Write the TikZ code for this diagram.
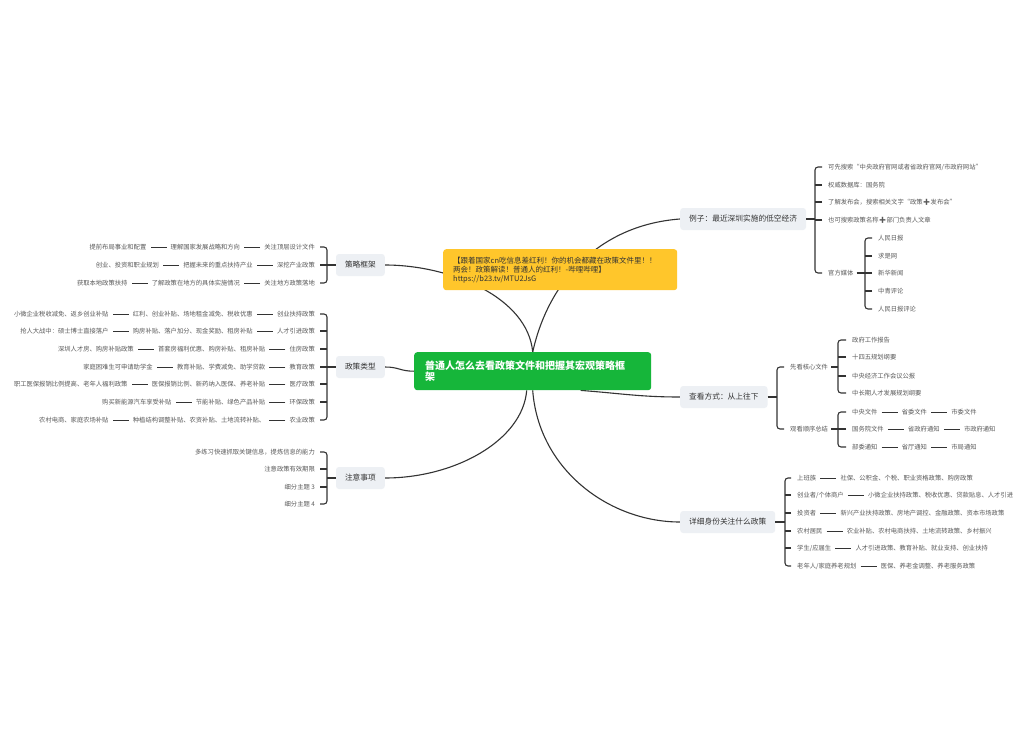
\documentclass[tikz,border=0pt]{standalone}
\usepackage{fontspec}
\setmainfont{Noto Sans CJK SC}
\newfontfamily\emo{Noto Emoji}
\usetikzlibrary{positioning,backgrounds}
\begin{document}
\begin{tikzpicture}[x=1pt,y=-1pt,
  leafnode/.style={inner sep=0pt,font=\fontsize{6.3}{7.5}\selectfont,text=leafgray},
  topicnode/.style={fill=topicbg,rounded corners=3pt,inner xsep=9pt,inner ysep=0pt,minimum height=22pt,font=\fontsize{7.7}{9}\selectfont,text=topictext},
  rootnode/.style={anchor=north west,fill=rootgreen,rounded corners=3pt,text width=215pt,align=left,inner xsep=11pt,minimum height=38pt,text=white,font=\bfseries\fontsize{10}{11.5}\selectfont},
  notenode/.style={anchor=north west,fill=noteyellow,rounded corners=3pt,text width=214pt,align=left,inner xsep=10pt,minimum height=41pt,text=topictext,font=\fontsize{7.5}{9}\selectfont},
  bracket/.style={draw=linedark,line width=1.1pt,rounded corners=3pt},
  linkline/.style={draw=linedark,line width=0.9pt},
  branch/.style={draw=linedark,line width=1.1pt}]
\definecolor{leafgray}{HTML}{595959}
\definecolor{topictext}{HTML}{333333}
\definecolor{topicbg}{HTML}{EDF0F4}
\definecolor{linedark}{HTML}{333333}
\definecolor{rootgreen}{HTML}{16B63A}
\definecolor{noteyellow}{HTML}{FFC62B}
\path[use as bounding box] (0,0) rectangle (1028,736);

\node[rootnode] (root) at (414,352) {普通人怎么去看政策文件和把握其宏观策略框\\架};
\node[notenode] (note) at (443,249) {【跟着国家cn吃信息差红利！你的机会都藏在政策文件里！！\\两会！政策解读！普通人的红利！-哔哩哔哩】\\https://b23.tv/MTU2JsG};

\node[topicnode,anchor=east] (frame) at (385,265) {策略框架};
\node[topicnode,anchor=east] (kinds) at (385,367) {政策类型};
\node[topicnode,anchor=east] (notes) at (385,478) {注意事项};
\node[topicnode,anchor=west] (example) at (680,219) {例子：最近深圳实施的低空经济};
\node[topicnode,anchor=west] (howto) at (680,397) {查看方式：从上往下};
\node[topicnode,anchor=west] (whois) at (680,522) {详细身份关注什么政策};

\foreach \n/\y/\a/\b/\c in {1/247/关注顶层设计文件/理解国家发展战略和方向/提前布局事业和配置,
  2/265/深挖产业政策/把握未来的重点扶持产业/创业、投资和职业规划,
  3/283/关注地方政策落地/了解政策在地方的具体实施情况/获取本地政策扶持}
{ \node[leafnode,anchor=east] (fa\n) at (315,\y) {\a};
  \node[leafnode,left=24pt of fa\n] (fb\n) {\b};
  \node[leafnode,left=24pt of fb\n] (fc\n) {\c};
  \draw[linkline] ([xshift=-4pt]fa\n.west) -- ([xshift=4pt]fb\n.east);
  \draw[linkline] ([xshift=-4pt]fb\n.west) -- ([xshift=4pt]fc\n.east);}
\coordinate (fk) at ([xshift=12pt]fa1.east);
\draw[bracket] ([xshift=5pt]fa1.east) -- (fk) |- ([xshift=5pt]fa3.east);
\draw[bracket] ([xshift=5pt]fa2.east) -- (fa2.east -| fk);
\draw[bracket] (frame.west) -- (frame.west -| fk);

\foreach \n/\y/\a/\b/\c in {1/314/创业扶持政策/红利、创业补贴、场地租金减免、税收优惠/小微企业税收减免、返乡创业补贴,
  2/331/人才引进政策/购房补贴、落户加分、现金奖励、租房补贴/抢人大战中：硕士博士直接落户,
  3/349/住房政策/首套房福利优惠、购房补贴、租房补贴/深圳人才房、购房补贴政策,
  4/367/教育政策/教育补贴、学费减免、助学贷款/家庭困难生可申请助学金,
  5/384/医疗政策/医保报销比例、新药纳入医保、养老补贴/职工医保报销比例提高、老年人福利政策,
  6/402/环保政策/节能补贴、绿色产品补贴/购买新能源汽车享受补贴,
  7/420/农业政策/种植结构调整补贴、农资补贴、土地流转补贴、/农村电商、家庭农场补贴}
{ \node[leafnode,anchor=east] (ka\n) at (315,\y) {\a};
  \node[leafnode,left=24pt of ka\n] (kb\n) {\b};
  \node[leafnode,left=24pt of kb\n] (kc\n) {\c};
  \draw[linkline] ([xshift=-4pt]ka\n.west) -- ([xshift=4pt]kb\n.east);
  \draw[linkline] ([xshift=-4pt]kb\n.west) -- ([xshift=4pt]kc\n.east);}
\coordinate (kk) at ([xshift=12pt]ka1.east);
\draw[bracket] ([xshift=5pt]ka1.east) -- (kk) |- ([xshift=5pt]ka7.east);
\foreach \n in {2,...,6}
  \draw[bracket] ([xshift=5pt]ka\n.east) -- (ka\n.east -| kk);
\draw[bracket] (kinds.west) -- (kinds.west -| kk);

\foreach \n/\y/\t in {1/452/多练习快速抓取关键信息，提炼信息的能力,2/469/注意政策有效期限,3/487/细分主题 3,4/504/细分主题 4}
  \node[leafnode,anchor=east] (na\n) at (315,\y) {\t};
\coordinate (nk) at ([xshift=12pt]na1.east);
\draw[bracket] ([xshift=5pt]na1.east) -- (nk) |- ([xshift=5pt]na4.east);
\foreach \n in {2,3}
  \draw[bracket] ([xshift=5pt]na\n.east) -- (na\n.east -| nk);
\draw[bracket] (notes.west) -- (notes.west -| nk);

\foreach \n/\y/\t in {1/167/{可先搜索“中央政府官网或者省政府官网/市政府网站”},2/185/权威数据库：国务院,
  3/202/{了解发布会，搜索相关文字“政策{\emo ➕}发布会”},4/220/{也可搜索政策名称{\emo ➕}部门负责人文章},5/273/官方媒体}
  \node[leafnode,anchor=west] (ea\n) at (828,\y) {\t};
\coordinate (ek) at ([xshift=-13pt]ea1.west);
\draw[bracket] ([xshift=-6pt]ea1.west) -- (ek) |- ([xshift=-6pt]ea5.west);
\foreach \n in {2,3,4}
  \draw[bracket] ([xshift=-6pt]ea\n.west) -- (ea\n.west -| ek);
\draw[bracket] (example.east) -- (example.east -| ek);

\foreach \n/\y/\t in {1/238/人民日报,2/256/求是网,3/273/新华新闻,4/291/中青评论,5/309/人民日报评论}
  \node[leafnode,anchor=west] (ma\n) at (878,\y) {\t};
\coordinate (mk) at ([xshift=-13pt]ma1.west);
\draw[bracket] ([xshift=-6pt]ma1.west) -- (mk) |- ([xshift=-6pt]ma5.west);
\foreach \n in {2,3,4}
  \draw[bracket] ([xshift=-6pt]ma\n.west) -- (ma\n.west -| mk);
\draw[bracket] ([xshift=3pt]ea5.east) -- (ea5.east -| mk);

\node[leafnode,anchor=west] (ha1) at (790,367) {先看核心文件};
\node[leafnode,anchor=west] (ha2) at (790,429) {观看顺序总结};
\coordinate (hk) at ([xshift=-13pt]ha1.west);
\draw[bracket] ([xshift=-6pt]ha1.west) -- (hk) |- ([xshift=-6pt]ha2.west);
\draw[bracket] (howto.east) -- (howto.east -| hk);

\foreach \n/\y/\t in {1/340/政府工作报告,2/357/十四五规划纲要,3/376/中央经济工作会议公报,4/393/中长期人才发展规划纲要}
  \node[leafnode,anchor=west] (ca\n) at (852,\y) {\t};
\coordinate (ck) at ([xshift=-14pt]ca1.west);
\draw[bracket] ([xshift=-6pt]ca1.west) -- (ck) |- ([xshift=-6pt]ca4.west);
\foreach \n in {2,3}
  \draw[bracket] ([xshift=-6pt]ca\n.west) -- (ca\n.west -| ck);
\draw[bracket] ([xshift=3pt]ha1.east) -- (ha1.east -| ck);

\foreach \n/\y/\a/\b/\c in {1/412/中央文件/省委文件/市委文件,2/429/国务院文件/省政府通知/市政府通知,3/447/部委通知/省厅通知/市局通知}
{ \node[leafnode,anchor=west] (oa\n) at (852,\y) {\a};
  \node[leafnode,right=24pt of oa\n] (ob\n) {\b};
  \node[leafnode,right=24pt of ob\n] (oc\n) {\c};
  \draw[linkline] ([xshift=4pt]oa\n.east) -- ([xshift=-4pt]ob\n.west);
  \draw[linkline] ([xshift=4pt]ob\n.east) -- ([xshift=-4pt]oc\n.west);}
\coordinate (ok) at ([xshift=-14pt]oa1.west);
\draw[bracket] ([xshift=-6pt]oa1.west) -- (ok) |- ([xshift=-6pt]oa3.west);
\draw[bracket] ([xshift=-6pt]oa2.west) -- (oa2.west -| ok);
\draw[bracket] ([xshift=3pt]ha2.east) -- (ha2.east -| ok);

\foreach \n/\y/\a/\b in {1/478/上班族/社保、公积金、个税、职业资格政策、购房政策,
  2/495/{创业者/个体商户}/小微企业扶持政策、税收优惠、贷款贴息、人才引进,
  3/513/投资者/新兴产业扶持政策、房地产调控、金融政策、资本市场政策,
  4/531/农村居民/农业补贴、农村电商扶持、土地流转政策、乡村振兴,
  5/548/{学生/应届生}/人才引进政策、教育补贴、就业支持、创业扶持,
  6/566/{老年人/家庭养老规划}/医保、养老金调整、养老服务政策}
{ \node[leafnode,anchor=west] (wa\n) at (797,\y) {\a};
  \node[leafnode,right=24pt of wa\n] (wb\n) {\b};
  \draw[linkline] ([xshift=4pt]wa\n.east) -- ([xshift=-4pt]wb\n.west);}
\coordinate (wk) at ([xshift=-12pt]wa1.west);
\draw[bracket] ([xshift=-6pt]wa1.west) -- (wk) |- ([xshift=-6pt]wa6.west);
\foreach \n in {2,...,5}
  \draw[bracket] ([xshift=-6pt]wa\n.west) -- (wa\n.west -| wk);
\draw[bracket] (whois.east) -- (whois.east -| wk);

\begin{scope}[on background layer]
\fill[white] (0,0) rectangle (1028,736);
\draw[branch] (root.north) .. controls +(-5,-55) and +(65,0) .. (frame.east);
\draw[branch] (root.north) .. controls +(16,-72) and +(-80,6) .. (example.west);
\draw[branch] (root.west) .. controls +(-14,0) and +(14,0) .. (kinds.east);
\draw[branch] ([xshift=-6pt]root.south) .. controls +(-4,50) and +(70,0) .. (notes.east);
\draw[branch] (root.south) .. controls +(6,80) and +(-70,0) .. (whois.west);
\draw[branch] ([xshift=48pt]root.south) .. controls +(40,3) and +(-40,0) .. (howto.west);
\end{scope}
\end{tikzpicture}
\end{document}
